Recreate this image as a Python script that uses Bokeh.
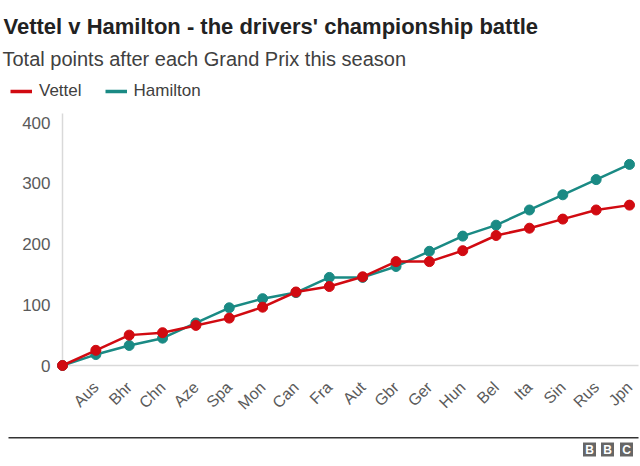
from bokeh.plotting import figure
from bokeh.models import (ColumnDataSource, Legend, LegendItem, Label,
                          BoxAnnotation, FixedTicker, Range1d)
from bokeh.embed import file_html
from bokeh.resources import INLINE

# ---- data ----
races = ["", "Aus", "Bhr", "Chn", "Aze", "Spa", "Mon", "Can", "Fra", "Aut",
         "Gbr", "Ger", "Hun", "Bel", "Ita", "Sin", "Rus", "Jpn"]
vettel = [0, 25, 50, 54, 66, 78, 96, 121, 130, 146, 171, 171, 189, 214, 226, 241, 256, 264]
hamilton = [0, 18, 33, 45, 70, 95, 110, 120, 145, 145, 163, 188, 213, 231, 256, 281, 306, 331]
y_ticks = [0, 100, 200, 300, 400]
series_names = ["Vettel", "Hamilton"]
title_text = "Vettel v Hamilton - the drivers' championship battle"
subtitle_text = "Total points after each Grand Prix this season"
logo_letters = ["B", "B", "C"]

# ---- style ----
RED = "#d10a11"
TEAL = "#1a8a84"
GREY_TXT = "#5a5a5a"
FONT = "Liberation Sans"
W, H = 640, 466
PAGE_L, PAGE_T = 0, 0               # canvas origin in the picture
PAGE_R, PAGE_B = PAGE_L + W, PAGE_T + H

# picture-pixel geometry of the plot area
X0_PX, PPX = 62.0, 33.353          # x of first point, px per step
Y0_PX, PPY = 365.0, 0.6075         # y of zero, px per point


def dx(px):   # picture x -> data x
    return (px - X0_PX) / PPX


def dy(py):   # picture y -> data y
    return (Y0_PX - py) / PPY


idx = list(range(len(races)))
src = ColumnDataSource(dict(x=idx, vettel=vettel, hamilton=hamilton))

# frame covers the whole canvas; axes draw their labels inward
p = figure(width=W, height=H, output_backend="svg", toolbar_location=None,
           x_range=Range1d(dx(PAGE_L), dx(PAGE_R)), y_range=Range1d(dy(PAGE_B), dy(PAGE_T)),
           min_border=0)
p.outline_line_color = None
p.grid.visible = False

# axis lines
p.add_layout(BoxAnnotation(left=dx(X0_PX - 0.75), right=dx(X0_PX + 0.75),
                           bottom=0, top=dy(113), fill_color="#d9d9d9", fill_alpha=1,
                           line_color=None, level="underlay"))
p.add_layout(BoxAnnotation(left=0, right=dx(638), bottom=dy(Y0_PX + 0.75),
                           top=dy(Y0_PX - 0.75), fill_color="#d9d9d9", fill_alpha=1,
                           line_color=None, level="underlay"))

# series
p.line("x", "hamilton", source=src, color=TEAL, line_width=2.5)
p.scatter("x", "hamilton", source=src, color=TEAL, size=10)
p.line("x", "vettel", source=src, color=RED, line_width=2.5)
p.scatter("x", "vettel", source=src, color=RED, size=10)

# legend swatches (hidden copies with thicker line)
lv = p.line("x", "vettel", source=src, color=RED, line_width=3.5, visible=False)
lh = p.line("x", "hamilton", source=src, color=TEAL, line_width=3.5, visible=False)

# axes
ya = p.yaxis[0]
ya.ticker = FixedTicker(ticks=y_ticks)
ya.axis_line_color = None
ya.major_tick_line_color = None
ya.minor_tick_line_color = None
ya.major_tick_out = 0
ya.major_tick_in = 0
ya.major_label_standoff = -(50 - PAGE_L)
ya.major_label_text_font = FONT
ya.major_label_text_font_size = "17px"
ya.major_label_text_color = GREY_TXT

xa = p.xaxis[0]
xa.ticker = FixedTicker(ticks=idx[1:])
xa.major_label_overrides = {i: races[i] for i in idx[1:]}
xa.major_label_orientation = 0.785398
xa.axis_line_color = None
xa.major_tick_line_color = None
xa.minor_tick_line_color = None
xa.major_tick_out = 0
xa.major_tick_in = 0
xa.major_label_standoff = 384 - PAGE_B
xa.major_label_text_font = FONT
xa.major_label_text_font_size = "16px"
xa.major_label_text_color = GREY_TXT

# header texts
p.add_layout(Label(x=dx(3), y=dy(25.5), text=title_text, text_font=FONT,
                   text_font_size="22px", text_font_style="bold",
                   text_color="#222222", text_baseline="alphabetic"))
p.add_layout(Label(x=dx(2), y=dy(58.5), text=subtitle_text, text_font=FONT,
                   text_font_size="20px", text_color="#404040",
                   text_baseline="alphabetic"))

legend = Legend(items=[LegendItem(label=series_names[0], renderers=[lv]),
                       LegendItem(label=series_names[1], renderers=[lh])],
                orientation="horizontal", location=(10 - PAGE_L, PAGE_B - 101),
                border_line_color=None, background_fill_alpha=0,
                inactive_fill_alpha=0,
                label_text_font=FONT, label_text_font_size="17px",
                label_text_color="#404040", glyph_width=22, glyph_height=20,
                label_height=20, label_standoff=7, spacing=23, padding=0, margin=0)
p.add_layout(legend, "center")

# footer rule and BBC blocks
p.add_layout(BoxAnnotation(left=dx(8), right=dx(638), bottom=dy(438), top=dy(436.5),
                           fill_color="#333333", fill_alpha=1, line_color=None))
logo_centers = [589, 607, 626]
for cx, letter in zip(logo_centers, logo_letters):
    p.add_layout(BoxAnnotation(left=dx(cx - 6.5), right=dx(cx + 6.5), bottom=dy(456),
                               top=dy(442), fill_color="#666666", fill_alpha=1,
                               line_color=None))
    p.add_layout(Label(x=dx(cx), y=dy(449), text=letter, text_font=FONT,
                       text_font_size="12px", text_font_style="bold", text_color="white",
                       text_align="center", text_baseline="middle"))

open("out.html", "w").write(file_html(p, INLINE))
